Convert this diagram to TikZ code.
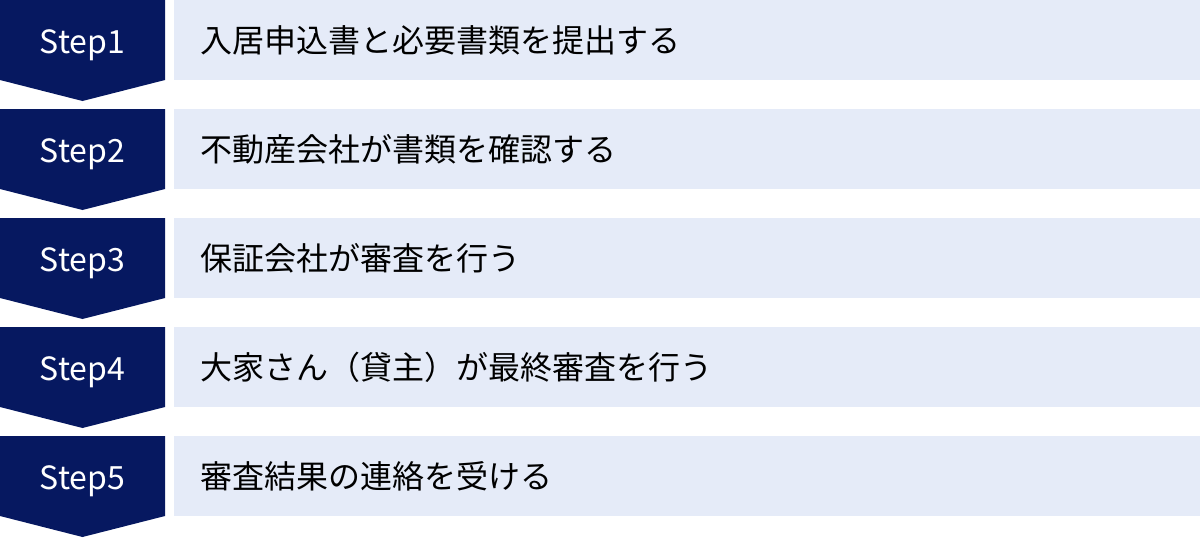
\documentclass[tikz,border=0pt]{standalone}
\usepackage{fontspec}
\setmainfont{Noto Sans CJK JP}
\definecolor{mynavy}{RGB}{6,24,96}
\definecolor{mylightblue}{RGB}{229,235,248}
\tikzset{
    stepshape/.style={fill=mynavy},
    stepbar/.style={fill=mylightblue},
    steplabel/.style={text=white, inner sep=0pt, anchor=base, font=\fontsize{32}{36}\selectfont},
    steptext/.style={text=black, inner sep=0pt, anchor=west, font=\fontsize{32}{36}\selectfont},
}

\begin{document}
\begin{tikzpicture}[x=1pt, y=-1pt]
    \useasboundingbox (0,0) rectangle (1200,538);

    % Step 1
    \begin{scope}
        \fill[stepshape] (0,0) -- ++(165,0) -- ++(0,80) -- ++(-82.5,21) -- ++(-82.5,-21) -- cycle;
        \fill[stepbar] (174,0) rectangle ++(1026,80);
        \node[steplabel] (step1) at (82.5,53) {Step1};
        \node[steptext] (text1) at (200,40) {入居申込書と必要書類を提出する};
    \end{scope}

    % Step 2
    \begin{scope}[yshift=-109pt]
        \fill[stepshape] (0,0) -- ++(165,0) -- ++(0,80) -- ++(-82.5,21) -- ++(-82.5,-21) -- cycle;
        \fill[stepbar] (174,0) rectangle ++(1026,80);
        \node[steplabel] (step2) at (82.5,53) {Step2};
        \node[steptext] (text2) at (200,40) {不動産会社が書類を確認する};
    \end{scope}

    % Step 3
    \begin{scope}[yshift=-218pt]
        \fill[stepshape] (0,0) -- ++(165,0) -- ++(0,80) -- ++(-82.5,21) -- ++(-82.5,-21) -- cycle;
        \fill[stepbar] (174,0) rectangle ++(1026,80);
        \node[steplabel] (step3) at (82.5,53) {Step3};
        \node[steptext] (text3) at (200,40) {保証会社が審査を行う};
    \end{scope}

    % Step 4
    \begin{scope}[yshift=-327pt]
        \fill[stepshape] (0,0) -- ++(165,0) -- ++(0,80) -- ++(-82.5,21) -- ++(-82.5,-21) -- cycle;
        \fill[stepbar] (174,0) rectangle ++(1026,80);
        \node[steplabel] (step4) at (82.5,53) {Step4};
        \node[steptext] (text4) at (200,40) {大家さん（貸主）が最終審査を行う};
    \end{scope}

    % Step 5
    \begin{scope}[yshift=-436pt]
        \fill[stepshape] (0,0) -- ++(165,0) -- ++(0,80) -- ++(-82.5,21) -- ++(-82.5,-21) -- cycle;
        \fill[stepbar] (174,0) rectangle ++(1026,80);
        \node[steplabel] (step5) at (82.5,53) {Step5};
        \node[steptext] (text5) at (200,40) {審査結果の連絡を受ける};
    \end{scope}
\end{tikzpicture}
\end{document}
